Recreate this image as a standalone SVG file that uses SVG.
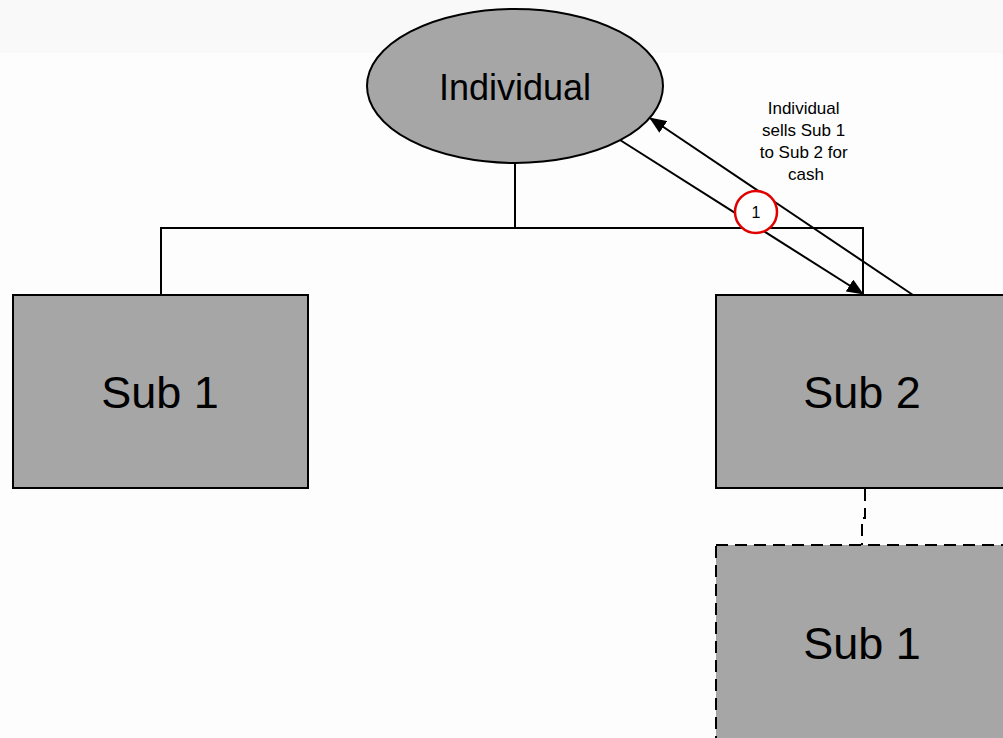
<svg xmlns="http://www.w3.org/2000/svg" width="1003" height="738" viewBox="0 0 1003 738">
<style>
.node{fill:#a6a6a6;stroke:#000;stroke-width:2}
.dash{stroke-dasharray:12,7}
.big{font-family:"Liberation Sans",Arial,sans-serif;font-size:45px;fill:#000;text-anchor:middle}
.mid{font-family:"Liberation Sans",Arial,sans-serif;font-size:36px;fill:#000;text-anchor:middle}
.small{font-family:"Liberation Sans",Arial,sans-serif;font-size:16px;fill:#000;text-anchor:middle}
.conn{fill:none;stroke:#000;stroke-width:2}
</style>
<defs>
<marker id="ah" markerUnits="userSpaceOnUse" markerWidth="18" markerHeight="14" refX="16" refY="7" orient="auto">
<path d="M0,0 L17,7 L0,14 Z" fill="#000"/>
</marker>
</defs>
<rect x="0" y="0" width="1003" height="738" fill="#fdfdfd"/>
<rect x="0" y="0" width="1003" height="53" fill="#f9f9f9"/>
<g id="connectors">
<line class="conn" x1="515" y1="163" x2="515" y2="228"/>
<polyline class="conn" points="161,295 161,228 863,228 863,295"/>
<path class="conn dash" d="M865,489 V518 H862 V545"/>
<line class="conn" x1="620" y1="140" x2="863" y2="294" marker-end="url(#ah)"/>
<line class="conn" x1="913" y1="295" x2="650" y2="118" marker-end="url(#ah)"/>
</g>
<g id="individual">
<ellipse class="node" cx="515" cy="86" rx="148" ry="77"/>
<text class="mid" x="515" y="100">Individual</text>
</g>
<g id="sub1">
<rect class="node" x="13" y="295" width="295" height="193"/>
<text class="big" x="160" y="408">Sub 1</text>
</g>
<g id="sub2">
<rect class="node" x="716" y="295" width="300" height="193"/>
<text class="big" x="862" y="408">Sub 2</text>
</g>
<g id="sub1-new">
<rect class="node dash" x="716" y="545" width="300" height="210"/>
<text class="big" x="862" y="659">Sub 1</text>
</g>
<g id="label">
<text font-family="Liberation Sans, Arial, sans-serif" font-size="17" text-anchor="middle" fill="#000">
<tspan x="806" y="114">Individual</tspan>
<tspan x="806" y="136">sells Sub 1</tspan>
<tspan x="806" y="158">to Sub 2 for</tspan>
<tspan x="806" y="180">cash</tspan>
</text>
</g>
<g id="step1">
<circle cx="756" cy="212" r="21" fill="#fff" stroke="#e00000" stroke-width="2.5"/>
<text class="small" x="756" y="218">1</text>
</g>
</svg>
